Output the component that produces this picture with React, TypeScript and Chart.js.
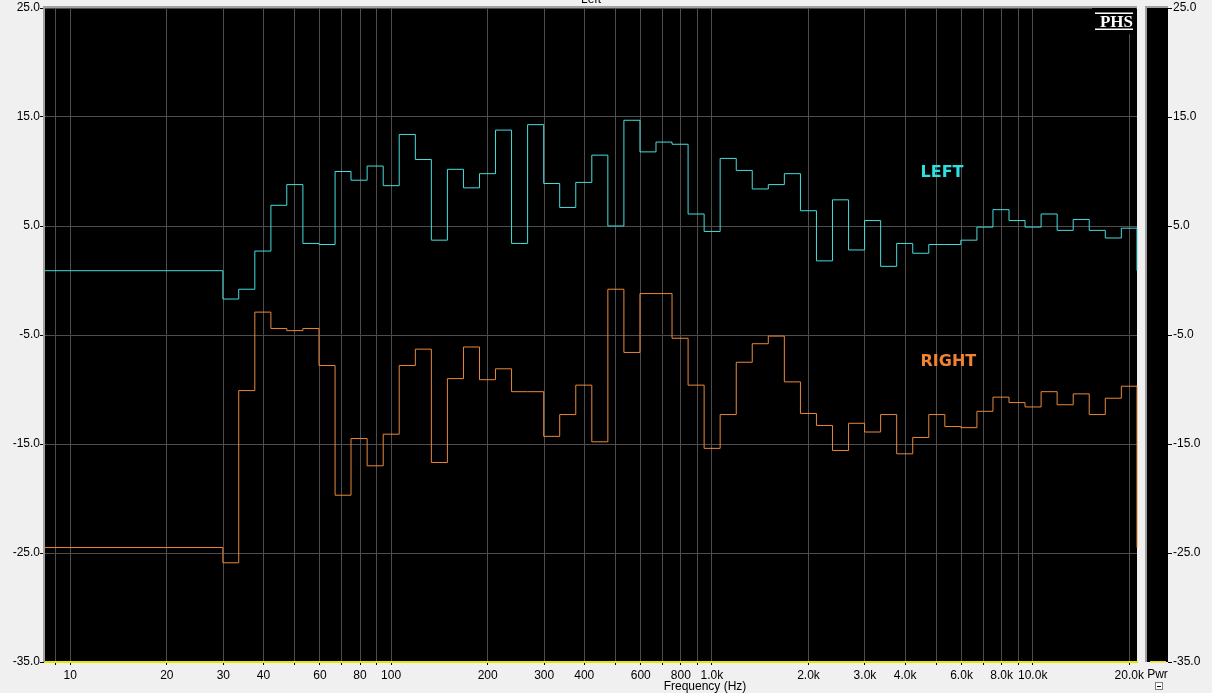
import React, { useEffect, useRef } from 'react';
import { Chart, registerables } from 'chart.js';

Chart.register(...registerables);

// ---- data ----
// 1/6-octave band start frequencies (Hz)
const bandEdgesHz = [
  29.9, 33.5, 37.6, 42.2, 47.3, 53.1, 59.6, 66.9, 75.0, 84.2,
  94.5, 106, 119, 133.5, 149.8, 168.1, 188.6, 211.6, 237.4, 266.4,
  299, 335.4, 376.4, 422.3, 473.9, 531.7, 596.6, 669.5, 751.2, 842.9,
  945.8, 1061, 1191, 1336, 1499, 1682, 1888, 2118, 2376, 2667,
  2992, 3357, 3767, 4227, 4743, 5322, 5971, 6700, 7518, 8436,
  9465, 10621, 11917, 13372, 15004, 16836, 18891,
];

const leftLevelsDb = [
  -1.7, -0.8, 2.7, 6.9, 8.8, 3.4, 3.3, 10.0, 9.2, 10.5,
  8.7, 13.4, 11.1, 3.7, 10.2, 8.5, 9.8, 13.8, 3.4, 14.3,
  8.9, 6.7, 9.0, 11.5, 5.0, 14.7, 11.8, 12.7, 12.5, 6.1,
  4.5, 11.2, 10.1, 8.4, 8.8, 9.8, 6.4, 1.8, 7.4, 2.8,
  5.5, 1.3, 3.4, 2.5, 3.3, 3.3, 3.7, 4.9, 6.5, 5.5,
  4.9, 6.1, 4.6, 5.6, 4.6, 3.9, 4.8,
];

const rightLevelsDb = [
  -25.9, -10.1, -2.9, -4.4, -4.6, -4.4, -7.8, -19.7, -14.5, -17.0,
  -14.1, -7.8, -6.3, -16.7, -9.0, -6.1, -9.1, -8.1, -10.2, -10.2,
  -14.3, -12.3, -9.6, -14.8, -0.8, -6.6, -1.2, -1.2, -5.3, -9.6,
  -15.4, -12.3, -7.5, -5.8, -5.1, -9.3, -12.2, -13.3, -15.6, -13.1,
  -13.9, -12.3, -15.9, -14.4, -12.3, -13.4, -13.5, -12.0, -10.7, -11.2,
  -11.6, -10.2, -11.4, -10.4, -12.3, -10.8, -9.7,
];

// level shown outside the analysed bands
const leftOutOfBandDb = 0.9;
const rightOutOfBandDb = -24.5;

const seriesNames = ['LEFT', 'RIGHT'];

// axes
const freqMinHz = 8.34;
const freqMaxHz = 21140;
const levelMinDb = -35;
const levelMaxDb = 25;
const levelStepDb = 10;

const xGridHz = [
  9, 10, 20, 30, 40, 50, 60, 70, 80, 90,
  100, 200, 300, 400, 500, 600, 700, 800, 900,
  1000, 2000, 3000, 4000, 5000, 6000, 7000, 8000, 9000,
  10000, 20000,
];
const xGridLabels = [
  '', '10', '20', '30', '40', '', '60', '', '80', '',
  '100', '200', '300', '400', '', '600', '', '800', '',
  '1.0k', '2.0k', '3.0k', '4.0k', '', '6.0k', '', '8.0k', '',
  '10.0k', '20.0k',
];

// where the series names are written (data coordinates)
const nameAnchorHz = 4470;
const nameAnchorDb = [9.9, -7.5];

const COLORS = {
  left: '#46dcdc',
  right: '#e8883a',
  leftText: '#2ee0e0',
  rightText: '#f08432',
  grid: '#4d4d4d',
  page: '#f0f0f0',
  frame: '#a0a0a0',
  yellow: '#e6e600',
};

const FONT = '"Liberation Sans", Arial, sans-serif';

function stepPoints(levels: number[], outOfBand: number) {
  return [
    { x: freqMinHz, y: outOfBand },
    ...bandEdgesHz.map((f, i) => ({ x: f, y: levels[i] })),
    { x: freqMaxHz, y: outOfBand },
  ];
}

const fmt = (v: any) => Number(v).toFixed(1);

const noPad = (s: any) => {
  s.paddingTop = 0;
  s.paddingBottom = 0;
  s.paddingLeft = 0;
  s.paddingRight = 0;
};

const decorPlugin = {
  id: 'decor',
  beforeDraw(chart: any) {
    const { ctx, chartArea: a } = chart;
    ctx.save();
    ctx.fillStyle = COLORS.page;
    ctx.fillRect(0, 0, chart.width, chart.height);
    ctx.fillStyle = '#000';
    ctx.fillRect(a.left, a.top, a.right - a.left, a.bottom - a.top);
    // power meter body
    ctx.fillRect(a.right + 10, a.top, 21, a.bottom - a.top);
    ctx.restore();
  },
  afterDraw(chart: any) {
    const { ctx, chartArea: a, scales } = chart;
    ctx.save();
    // frame of plot
    ctx.fillStyle = COLORS.frame;
    ctx.fillRect(a.left - 2, a.top - 2, a.right - a.left + 2, 2);
    ctx.fillRect(a.left - 2, a.top - 2, 2, a.bottom - a.top + 2);
    // frame of meter
    const mL = a.right + 10;
    const mR = a.right + 31;
    ctx.fillRect(mL - 2, a.top - 2, mR - mL + 2, 2);
    ctx.fillRect(mL - 2, a.top - 2, 2, a.bottom - a.top + 2);
    ctx.fillStyle = COLORS.yellow;
    ctx.fillRect(mL + 3, a.bottom - 1, mR - mL - 5, 1.5);
    // meter ticks
    ctx.strokeStyle = '#000';
    ctx.lineWidth = 1;
    const y2 = scales.y2;
    y2.ticks.forEach((t: any) => {
      const py = Math.round(y2.getPixelForValue(t.value)) + 0.5;
      ctx.beginPath();
      ctx.moveTo(mR, py);
      ctx.lineTo(mR + 4, py);
      ctx.stroke();
    });
    // texts
    ctx.fillStyle = '#000';
    ctx.font = '12px ' + FONT;
    ctx.textAlign = 'center';
    ctx.textBaseline = 'alphabetic';
    ctx.fillText('Left', (a.left + a.right) / 2, 3);
    ctx.fillText('Frequency (Hz)', 705, 690);
    ctx.fillText('Pwr', (mL + mR) / 2, 678);
    // small button under the meter
    ctx.fillStyle = '#fff';
    ctx.fillRect(1155, 682, 7, 7);
    ctx.strokeStyle = '#808080';
    ctx.strokeRect(1155.5, 682.5, 7, 7);
    ctx.strokeStyle = '#000';
    ctx.beginPath();
    ctx.moveTo(1157, 686.5);
    ctx.lineTo(1161, 686.5);
    ctx.stroke();
    // PHS logo
    ctx.fillStyle = '#000';
    ctx.fillRect(a.right - 45, a.top, 44, 26);
    ctx.fillStyle = '#fff';
    ctx.font = 'bold 17px "Liberation Serif", "Times New Roman", serif';
    ctx.textAlign = 'right';
    ctx.fillText('PHS', a.right - 4, 27);
    ctx.fillRect(a.right - 42, 12.5, 38, 1.5);
    ctx.fillRect(a.right - 42, 28.5, 38, 1.5);
    // series names
    ctx.font = 'bold 16px "DejaVu Sans", sans-serif';
    ctx.textAlign = 'left';
    ctx.textBaseline = 'middle';
    const nx = scales.x.getPixelForValue(nameAnchorHz);
    ctx.fillStyle = COLORS.leftText;
    ctx.fillText(seriesNames[0], nx, scales.y.getPixelForValue(nameAnchorDb[0]));
    ctx.fillStyle = COLORS.rightText;
    ctx.fillText(seriesNames[1], nx, scales.y.getPixelForValue(nameAnchorDb[1]));
    ctx.restore();
  },
};

export default function App() {
  const ref = useRef<HTMLCanvasElement | null>(null);

  useEffect(() => {
    document.body.style.margin = '0';
    document.body.style.background = COLORS.page;
    const canvas = ref.current;
    if (!canvas) return;
    const chart = new Chart(canvas, {
      type: 'line',
      data: {
        datasets: [
          {
            label: seriesNames[0],
            data: stepPoints(leftLevelsDb, leftOutOfBandDb),
            borderColor: COLORS.left,
            borderWidth: 1,
            stepped: 'before',
            pointRadius: 0,
            fill: false,
            clip: 3,
          },
          {
            label: seriesNames[1],
            data: stepPoints(rightLevelsDb, rightOutOfBandDb),
            borderColor: COLORS.right,
            borderWidth: 1,
            stepped: 'before',
            pointRadius: 0,
            fill: false,
            clip: 3,
          },
        ],
      },
      options: {
        animation: false,
        responsive: false,
        devicePixelRatio: 1,
        parsing: false,
        layout: { padding: { top: 8, right: 0, bottom: 0, left: 0 } },
        plugins: {
          legend: { display: false },
          tooltip: { enabled: false },
          title: { display: false },
        },
        scales: {
          x: {
            type: 'logarithmic',
            min: freqMinHz,
            max: freqMaxHz,
            afterBuildTicks: (s: any) => {
              s.ticks = xGridHz.map((v) => ({ value: v }));
            },
            afterFit: (s: any) => {
              s.height = 31;
              noPad(s);
            },
            grid: { color: COLORS.grid, tickLength: 3, tickColor: '#000' },
            border: { display: true, color: COLORS.yellow, width: 2 },
            ticks: {
              autoSkip: false,
              maxRotation: 0,
              minRotation: 0,
              padding: 3,
              color: '#000',
              font: { family: FONT, size: 12 },
              callback: (_v: any, i: number) => xGridLabels[i] ?? '',
            },
          },
          y: {
            type: 'linear',
            position: 'left',
            min: levelMinDb,
            max: levelMaxDb,
            afterFit: (s: any) => {
              s.width = 45;
              noPad(s);
            },
            grid: { color: COLORS.grid, tickLength: 5, tickColor: '#000' },
            border: { display: false },
            ticks: {
              stepSize: levelStepDb,
              padding: 0,
              color: '#000',
              font: { family: FONT, size: 12 },
              callback: fmt,
            },
          },
          y2: {
            type: 'linear',
            position: 'right',
            display: true,
            min: levelMinDb,
            max: levelMaxDb,
            afterFit: (s: any) => {
              s.width = 75;
              noPad(s);
            },
            grid: { display: false, drawTicks: false, tickLength: 0 },
            border: { display: false },
            ticks: {
              stepSize: levelStepDb,
              padding: 36,
              color: '#000',
              font: { family: FONT, size: 12 },
              callback: fmt,
            },
          },
        },
      } as any,
      plugins: [decorPlugin],
    });
    return () => chart.destroy();
  }, []);

  return (
    <div style={{ position: 'fixed', left: 0, top: 0, width: 1212, height: 693, background: COLORS.page }}>
      <canvas ref={ref} width={1212} height={693} style={{ display: 'block', width: 1212, height: 693 }} />
    </div>
  );
}
